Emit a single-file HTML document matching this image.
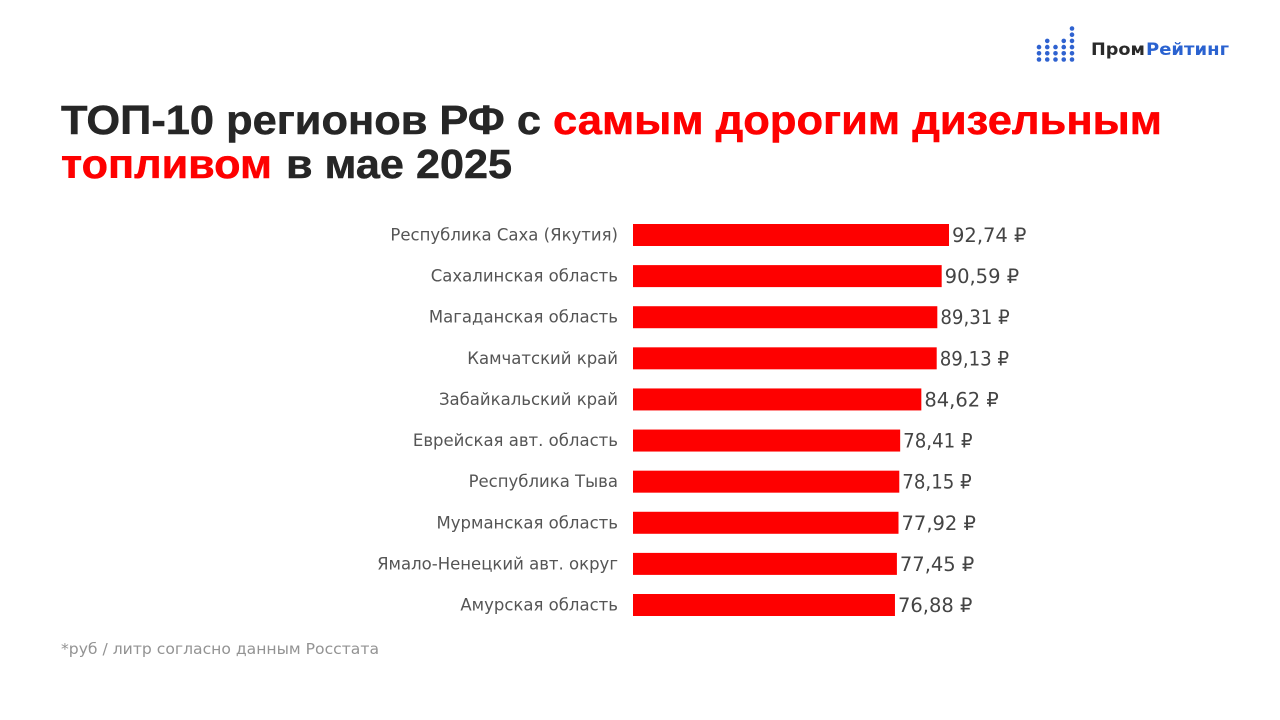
<!DOCTYPE html>
<html lang="ru">
<head>
<meta charset="utf-8">
<title>ТОП-10 регионов РФ</title>
<style>
html,body{margin:0;padding:0;background:#fff;width:1280px;height:720px;overflow:hidden}
svg{display:block}
text{font-family:"DejaVu Sans","Liberation Sans",sans-serif}
.ttl{font-family:"Liberation Sans","DejaVu Sans",sans-serif;font-weight:700;font-size:41px;stroke-width:.5px}
</style>
</head>
<body>
<svg id="chart" width="1280" height="720" viewBox="0 0 1280 720" xmlns="http://www.w3.org/2000/svg">
  <rect width="1280" height="720" fill="#fff"/>
  <g id="logo-dots" fill="#2f62d0"></g>
  <text x="1091" y="55" font-size="17" font-weight="700" fill="#2a2a2a" textLength="54" lengthAdjust="spacingAndGlyphs">Пром</text>
  <text x="1146" y="55" font-size="17" font-weight="700" fill="#2a62d0" textLength="83" lengthAdjust="spacingAndGlyphs">Рейтинг</text>
  <text class="ttl" x="61" y="134" fill="#262626" stroke="#262626" textLength="480" lengthAdjust="spacingAndGlyphs">ТОП-10 регионов РФ с</text>
  <text class="ttl" x="553" y="134" fill="#fe0000" stroke="#fe0000" textLength="609" lengthAdjust="spacingAndGlyphs">самым дорогим дизельным</text>
  <text class="ttl" x="61" y="178" fill="#fe0000" stroke="#fe0000" textLength="211" lengthAdjust="spacingAndGlyphs">топливом</text>
  <text class="ttl" x="286" y="178" fill="#262626" stroke="#262626" textLength="226" lengthAdjust="spacingAndGlyphs">в мае 2025</text>
  <g id="rows"></g>
  <text x="61" y="654" font-size="15.5" fill="#939393" textLength="318" lengthAdjust="spacingAndGlyphs">*руб / литр согласно данным Росстата</text>
</svg>
<script>
const categories = ["Республика Саха (Якутия)","Сахалинская область","Магаданская область","Камчатский край","Забайкальский край","Еврейская авт. область","Республика Тыва","Мурманская область","Ямало-Ненецкий авт. округ","Амурская область"];
const values = [92.74,90.59,89.31,89.13,84.62,78.41,78.15,77.92,77.45,76.88];
const valueLabels = ["92,74 ₽","90,59 ₽","89,31 ₽","89,13 ₽","84,62 ₽","78,41 ₽","78,15 ₽","77,92 ₽","77,45 ₽","76,88 ₽"];

const NS = "http://www.w3.org/2000/svg";
const rows = document.getElementById("rows");
const xScale = v => 633 + v * (316 / 92.74);
const yScale = i => 235 + i * (370 / 9);

values.forEach((v, i) => {
  const cy = yScale(i);

  const label = document.createElementNS(NS, "text");
  
  
  label.setAttribute("x", 618);
  label.setAttribute("y", cy + 5.5);
  label.setAttribute("text-anchor", "end");
  label.setAttribute("font-size", "16.5");
  label.setAttribute("fill", "#555555");
  label.textContent = categories[i];
  rows.appendChild(label);

  const bar = document.createElementNS(NS, "rect");
  
  
  bar.setAttribute("x", xScale(0));
  bar.setAttribute("y", cy - 11);
  bar.setAttribute("width", xScale(v) - xScale(0));
  bar.setAttribute("height", 22);
  bar.setAttribute("fill", "#fe0000");
  rows.appendChild(bar);

  const val = document.createElementNS(NS, "text");
  
  
  val.setAttribute("x", xScale(v) + 3);
  val.setAttribute("y", cy + 7);
  val.setAttribute("font-size", "19.5");
  val.setAttribute("fill", "#444444");
  val.textContent = valueLabels[i];
  rows.appendChild(val);
  const ones = valueLabels[i].split("1").length - 1;
  if (ones > 0) {
    val.setAttribute("textLength", (val.getComputedTextLength() - 5 * ones).toFixed(1));
    val.setAttribute("lengthAdjust", "spacingAndGlyphs");
  }
});

const logo = document.getElementById("logo-dots");
const dotCounts = [3,4,3,4,6];
dotCounts.forEach((count, c) => {
  for (let r = 0; r < count; r++) {
    const dot = document.createElementNS(NS, "circle");
    
    
    dot.setAttribute("cx", 1039 + c * 8.25);
    dot.setAttribute("cy", 59.5 - r * 6.2);
    dot.setAttribute("r", 2.3);
    logo.appendChild(dot);
  }
});
</script>
</body>
</html>
